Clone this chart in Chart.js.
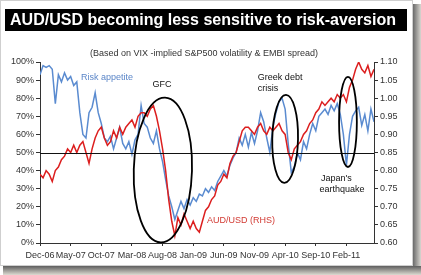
<!DOCTYPE html>
<html>
<head>
<meta charset="utf-8">
<script src="https://cdn.jsdelivr.net/npm/chart.js@4.4.1/dist/chart.umd.min.js"></script>
<style>
  html, body { margin: 0; padding: 0; background: #fff; }
  #wrap { width: 421px; height: 275px; }
</style>
</head>
<body>
<div id="wrap"><canvas id="chart" width="421" height="275"></canvas></div>
<script>
// x axis: half-month samples starting Dec-06, a label every 10 samples (5 months)
const tickLabels = ['Dec-06', 'May-07', 'Oct-07', 'Mar-08', 'Aug-08', 'Jan-09', 'Jun-09', 'Nov-09', 'Apr-10', 'Sep-10', 'Feb-11'];
const samplesPerLabel = 10;

// Risk appetite index (%, LHS)
const riskAppetite = [
  93, 98, 97, 98, 96, 77, 93, 89, 94, 90,
  92, 87, 89, 72, 60, 58, 72, 75, 83, 72,
  66, 58, 56, 59, 52, 58, 64, 55, 52, 56,
  49, 57, 60, 76, 66, 64, 58, 55, 62, 52,
  45, 35, 26, 20, 13, 18, 23, 19, 24, 21,
  25, 23, 27, 26, 30, 28, 31, 29, 34, 37,
  40, 37, 43, 47, 50, 58, 54, 60, 53, 61,
  55, 62, 72, 67, 58, 50, 64, 72, 78, 80,
  74, 55, 39, 42, 50, 46, 56, 52, 60, 66,
  62, 70, 72, 74, 71, 76, 73, 77, 71, 60,
  43, 60, 70, 73, 75, 65, 71, 62, 74, 67
];

// AUD/USD (RHS)
const audUsd = [
  0.79, 0.78, 0.80, 0.79, 0.77, 0.80, 0.81, 0.83, 0.84, 0.86,
  0.85, 0.87, 0.85, 0.87, 0.88, 0.85, 0.82, 0.86, 0.89, 0.91,
  0.92, 0.89, 0.87, 0.88, 0.91, 0.89, 0.92, 0.90, 0.92, 0.93,
  0.94, 0.92, 0.95, 0.96, 0.96, 0.95, 0.97, 0.98, 0.95, 0.91,
  0.86, 0.80, 0.72, 0.66, 0.62, 0.67, 0.65, 0.68, 0.66, 0.64,
  0.66, 0.64, 0.63, 0.66, 0.69, 0.70, 0.72, 0.73, 0.76, 0.77,
  0.79, 0.78, 0.82, 0.84, 0.85, 0.88, 0.91, 0.92, 0.92, 0.91,
  0.90, 0.92, 0.93, 0.91, 0.90, 0.92, 0.91, 0.92, 0.93, 0.91,
  0.90, 0.85, 0.83, 0.86, 0.87, 0.88, 0.90, 0.91, 0.93, 0.94,
  0.96, 0.97, 0.99, 0.98, 0.99, 1.00, 0.99, 1.01, 1.00, 1.01,
  0.99, 1.03, 1.05, 1.08, 1.10, 1.08, 1.07, 1.09, 1.06, 1.08
];

// hand-drawn ellipses: centre (sample index, % LHS), radii in the same units, tilt in radians
const ellipses = [
  { x: 40.1, y: 40.3, rx: 9.5, ry: 40.0, tilt: 0.03 },  // GFC
  { x: 80.0, y: 57.5, rx: 4.2, ry: 24.3, tilt: 0.02 },  // Greek debt
  { x: 100.5, y: 66.9, rx: 2.9, ry: 24.9, tilt: 0 }     // Japan
];

const notes = [
  { text: 'Risk appetite', x: 21.9, y: 91.2, color: '#5b86c8', align: 'center' },
  { text: 'GFC', x: 39.8, y: 87.3, color: '#111', align: 'center' },
  { text: 'Greek debt', x: 71.1, y: 91.7, color: '#111', align: 'left' },
  { text: 'crisis', x: 71.1, y: 85.6, color: '#111', align: 'left' },
  { text: "Japan's", x: 91.7, y: 35.4, color: '#111', align: 'left' },
  { text: 'earthquake', x: 91.2, y: 29.3, color: '#111', align: 'left' },
  { text: 'AUD/USD (RHS)', x: 54.5, y: 12.2, color: '#d23a33', align: 'left' }
];

const FONT = '"Liberation Sans", Arial, sans-serif';
Chart.defaults.font.family = FONT;

const decor = {
  id: 'decor',
  beforeDraw(chart) {
    const ctx = chart.ctx;
    ctx.save();
    ctx.fillStyle = '#fff';
    ctx.fillRect(0, 0, 421, 275);
    // drop shadow right / bottom
    let g = ctx.createLinearGradient(413, 0, 421, 0);
    g.addColorStop(0, '#6a6a6a'); g.addColorStop(1, '#d8d6d0');
    ctx.fillStyle = g;
    ctx.fillRect(413, 4, 8, 271);
    g = ctx.createLinearGradient(0, 266, 0, 275);
    g.addColorStop(0, '#5e5e5e'); g.addColorStop(1, '#dedbd2');
    ctx.fillStyle = g;
    ctx.fillRect(3, 266, 418, 9);
    ctx.strokeStyle = '#cfcfcf';
    ctx.lineWidth = 1;
    ctx.strokeRect(0.5, 0.5, 412, 265);

    // title bar
    ctx.fillStyle = '#000';
    ctx.fillRect(5, 9, 402, 22);
    const title = 'AUD/USD becoming less sensitive to risk-aversion';
    ctx.font = 'bold 16px ' + FONT;
    ctx.fillStyle = '#fff';
    ctx.textBaseline = 'alphabetic';
    const w = ctx.measureText(title).width;
    const target = 386;
    ctx.translate(10, 25);
    ctx.scale(target / w, 1);
    ctx.fillText(title, 0, 0);
    ctx.setTransform(1, 0, 0, 1, 0, 0);

    ctx.font = '9px ' + FONT;
    ctx.fillStyle = '#333';
    ctx.textAlign = 'center';
    ctx.textBaseline = 'middle';
    ctx.fillText('(Based on VIX -implied S&P500 volatility & EMBI spread)', 204, 54);
    ctx.restore();
  },
  afterDatasetsDraw(chart) {
    const { ctx, chartArea, scales } = chart;
    const xs = scales.x, ys = scales.y;
    ctx.save();
    // 50% line
    const y50 = Math.round(ys.getPixelForValue(50)) + 0.5;
    ctx.strokeStyle = '#111';
    ctx.lineWidth = 1;
    ctx.beginPath();
    ctx.moveTo(chartArea.left, y50);
    ctx.lineTo(chartArea.right, y50);
    ctx.stroke();

    // ellipses
    ctx.lineWidth = 1.8;
    ctx.strokeStyle = '#000';
    ellipses.forEach(e => {
      const cx = xs.getPixelForValue(e.x), cy = ys.getPixelForValue(e.y);
      const rx = xs.getPixelForValue(e.x + e.rx) - cx;
      const ry = cy - ys.getPixelForValue(e.y + e.ry);
      ctx.beginPath();
      ctx.ellipse(cx, cy, rx, ry, e.tilt, 0, Math.PI * 2);
      ctx.stroke();
    });

    ctx.font = '9px ' + FONT;
    ctx.textBaseline = 'middle';
    notes.forEach(n => {
      ctx.fillStyle = n.color;
      ctx.textAlign = n.align;
      ctx.fillText(n.text, xs.getPixelForValue(n.x), ys.getPixelForValue(n.y));
    });
    ctx.restore();
  }
};

const axisColor = '#333';
const tickFont = { size: 9 };

new Chart(document.getElementById('chart'), {
  type: 'line',
  data: {
    datasets: [
      {
        label: 'AUD/USD (RHS)',
        data: audUsd.map((v, i) => ({ x: i, y: v })),
        yAxisID: 'y1',
        borderColor: '#dc1e1e',
        borderWidth: 1.5,
        pointRadius: 0,
        tension: 0,
        order: 1
      },
      {
        label: 'Risk appetite',
        data: riskAppetite.map((v, i) => ({ x: i, y: v })),
        yAxisID: 'y',
        borderColor: '#5a8bd0',
        borderWidth: 1.5,
        pointRadius: 0,
        tension: 0,
        order: 2
      }
    ]
  },
  options: {
    responsive: false,
    animation: false,
    devicePixelRatio: 1,
    layout: { padding: { top: 62, left: 0, right: 0, bottom: 0 } },
    plugins: { legend: { display: false }, tooltip: { enabled: false } },
    scales: {
      x: {
        type: 'linear',
        min: 0,
        max: riskAppetite.length - 1,
        afterBuildTicks: s => { s.ticks = tickLabels.map((_, i) => ({ value: i * samplesPerLabel })); },
        afterFit: s => { s.height = 32; },
        grid: { drawOnChartArea: false, drawTicks: true, tickLength: 3, color: axisColor },
        border: { display: true, color: axisColor, width: 1 },
        ticks: {
          autoSkip: false, maxRotation: 0, padding: 4, color: axisColor, font: tickFont,
          callback: v => tickLabels[Math.round(v / samplesPerLabel)]
        }
      },
      y: {
        position: 'left',
        min: 0,
        max: 100,
        afterFit: s => { s.width = 40; },
        grid: { drawOnChartArea: false, tickLength: 4, color: axisColor },
        border: { display: true, color: axisColor, width: 1 },
        ticks: { stepSize: 10, padding: 2, color: axisColor, font: tickFont, callback: v => v + '%' }
      },
      y1: {
        position: 'right',
        min: 0.6,
        max: 1.1,
        afterFit: s => { s.width = 47; },
        grid: { drawOnChartArea: false, tickLength: 4, color: axisColor },
        border: { display: true, color: axisColor, width: 1 },
        ticks: { stepSize: 0.05, padding: 2, color: axisColor, font: tickFont, callback: v => v.toFixed(2) }
      }
    }
  },
  plugins: [decor]
});
</script>
</body>
</html>
